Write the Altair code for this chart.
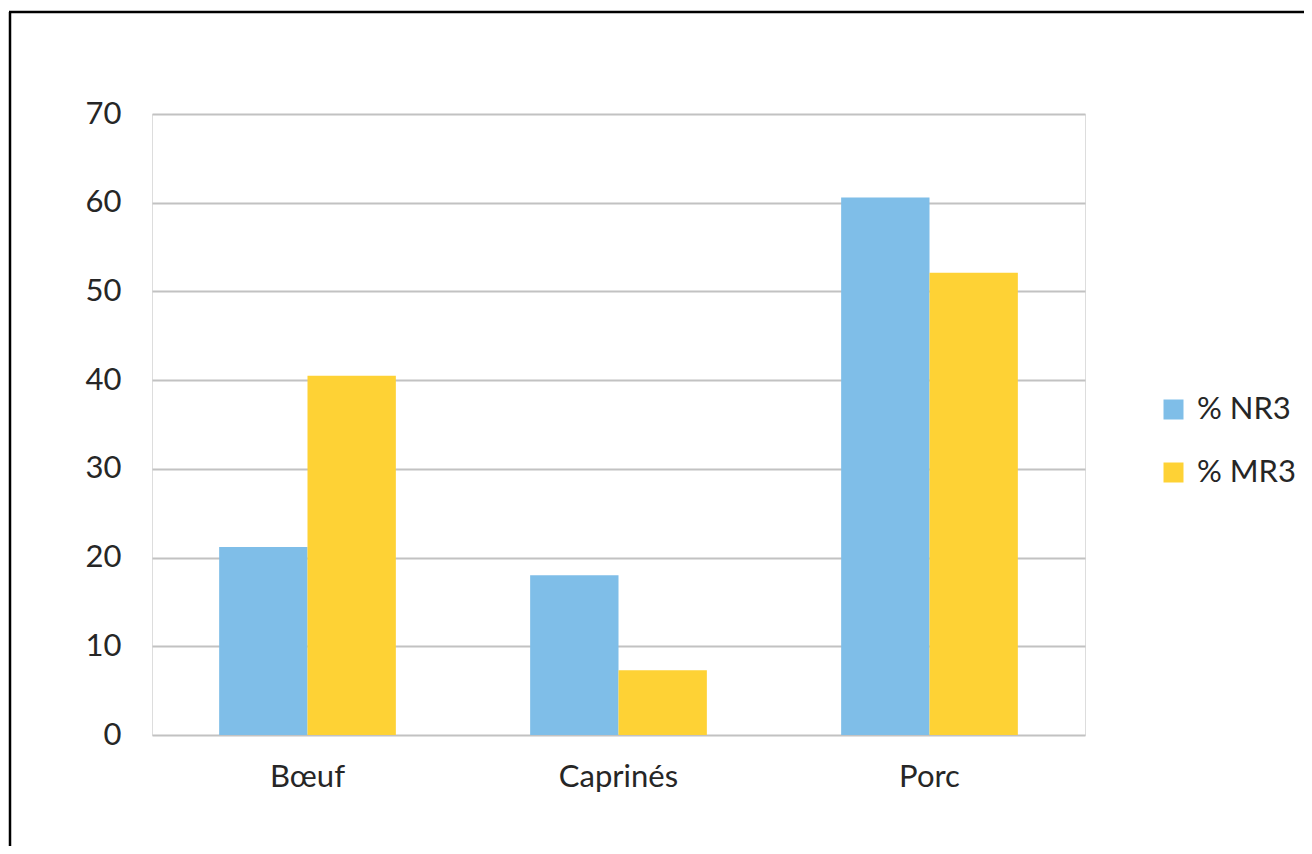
import altair as alt
import pandas as pd

categories = ["Bœuf", "Caprinés", "Porc"]
series = ["% NR3", "% MR3"]
nr3 = [21.2, 18.0, 60.6]
mr3 = [40.5, 7.3, 52.1]
colors = ["#7FBEE8", "#FED235"]
y_ticks = [0, 10, 20, 30, 40, 50, 60, 70]

rows = []
for i, c in enumerate(categories):
    rows.append({"cat": c, "series": series[0], "value": nr3[i]})
    rows.append({"cat": c, "series": series[1], "value": mr3[i]})
df = pd.DataFrame(rows)

FONT = "Lato"
FS = 31
TXT = "#262626"

bars = alt.Chart(df).mark_bar().encode(
    x=alt.X("cat:N", sort=categories,
            scale=alt.Scale(paddingInner=0, paddingOuter=0),
            axis=alt.Axis(title=None, labelAngle=0, labelFontSize=FS, labelPadding=27,
                          ticks=False, domain=False, grid=False, labelColor=TXT, labelFont=FONT)),
    xOffset=alt.XOffset("series:N", sort=series,
                        scale=alt.Scale(paddingInner=0, paddingOuter=0.76)),
    y=alt.Y("value:Q", scale=alt.Scale(domain=[0, 70], nice=False),
            axis=alt.Axis(values=y_ticks, title=None, ticks=False, domain=False, grid=True,
                          gridColor="#C2C2C2", gridWidth=1.8, labelPadding=31,
                          labelFontSize=FS, labelColor=TXT, labelFont=FONT)),
    color=alt.Color("series:N", scale=alt.Scale(domain=series, range=colors),
                    legend=alt.Legend(title=None, orient="none", legendX=1006, legendY=280,
                                      symbolType="square", symbolSize=400, symbolStrokeWidth=0,
                                      labelFontSize=FS, labelFont=FONT, labelColor=TXT,
                                      labelOffset=8, rowPadding=31, padding=0)),
)

frame_df = pd.DataFrame({"k": [0]})
left_line = alt.Chart(frame_df).mark_rule(color="black", strokeWidth=2.5).encode(
    x=alt.value(-142), y=alt.value(-102), y2=alt.value(900))
top_line = alt.Chart(frame_df).mark_rule(color="black", strokeWidth=2.5).encode(
    x=alt.value(-143), x2=alt.value(2000), y=alt.value(-102))

chart = alt.layer(bars, left_line, top_line).properties(
    width=933, height=621,
    padding={"left": 144, "top": 106, "right": 219, "bottom": 111},
    autosize=alt.AutoSizeParams(type="none"),
).configure_view(stroke="#C2C2C2", strokeWidth=1.8).configure(background="white")

chart.save("out.html", embed_options={"renderer": "svg", "actions": False})
